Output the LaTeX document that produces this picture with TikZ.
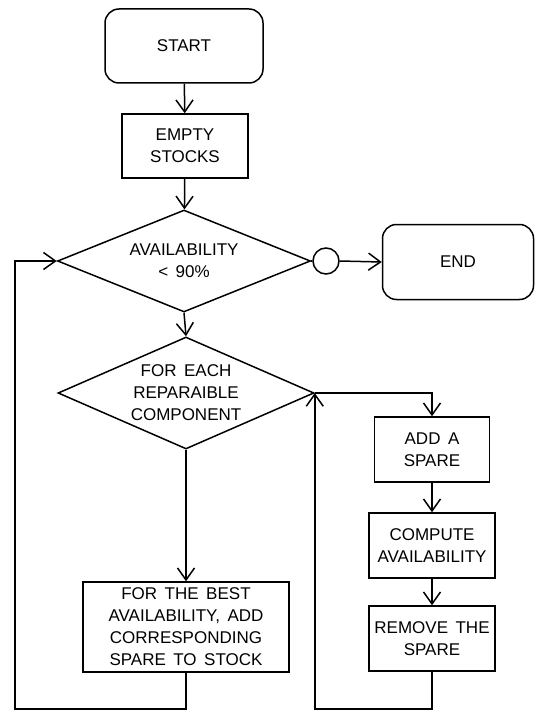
\documentclass[tikz,border=0pt]{standalone}
\usepackage{fontspec}
\setmainfont{Liberation Sans}
\usetikzlibrary{shapes.geometric,arrows.meta}
\newcommand\chartfont{\fontsize{17}{22}\selectfont\spaceskip=7.5pt plus 1pt\relax}

\begin{document}
\begin{tikzpicture}[x=1pt,y=-1pt,
    line width=1.5pt,
    >={Straight Barb[length=12pt,width=17pt,line width=1.5pt]},
    every node/.style={font=\chartfont, align=center, inner sep=0pt, text=black},
    terminal/.style={draw, rounded corners=14pt},
    procbox/.style={draw, rectangle},
    decision/.style={draw, diamond}]
  \useasboundingbox (0,0) rectangle (537,711);

  % terminals
  \node[terminal, minimum width=158pt, minimum height=74pt] (start) at (184,46) {START};
  \node[terminal, minimum width=151pt, minimum height=75pt] (end) at (458,262) {END};

  % main column
  \node[procbox, minimum width=126pt, minimum height=64pt] (empty) at (185,146) {EMPTY\\STOCKS};
  \node[decision, aspect=2.48, minimum width=253pt, minimum height=102pt] (avail) at (184,261) {AVAILABILITY\\{<} 90\%};
  \node[draw, circle, minimum size=26pt] (conn) at (326,261) {};
  \node[decision, aspect=2.29, minimum width=256pt, minimum height=112pt] (each) at (186,393) {FOR EACH\\REPARAIBLE\\COMPONENT};
  \node[procbox, minimum width=206pt, minimum height=90pt] (best) at (186,627)
    {FOR THE BEST\\AVAILABILITY, ADD\\CORRESPONDING\\SPARE TO STOCK};

  % inner loop column
  \node[procbox, minimum width=115pt, minimum height=65pt] (add) at (432,449.5) {ADD A\\SPARE};
  \node[procbox, minimum width=126pt, minimum height=65pt] (compute) at (432,545.5) {COMPUTE\\AVAILABILITY};
  \node[procbox, minimum width=126pt, minimum height=65pt] (remove) at (432,638.5) {REMOVE THE\\SPARE};

  % loop corners
  \coordinate (loopL) at (15,709);
  \coordinate (loopR) at (each.east |- 0,709);

  % connectors
  \draw[->] (start) -- (empty);
  \draw[->] (empty) -- (avail);
  \draw (avail.east) -- (conn.west);
  \draw[->] (conn.east) -- (end.west);
  \draw[->] (avail.south) -- (each.north);
  \draw[->] (each.south) -- (best.north);
  \draw[->] (best.south) |- (loopL) |- (avail.west);

  \draw[->] (each.east) -| (add.north);
  \draw[->] (add) -- (compute);
  \draw[->] (compute) -- (remove);
  \draw[->] (remove.south) |- (loopR) -- (each.east);
\end{tikzpicture}
\end{document}
